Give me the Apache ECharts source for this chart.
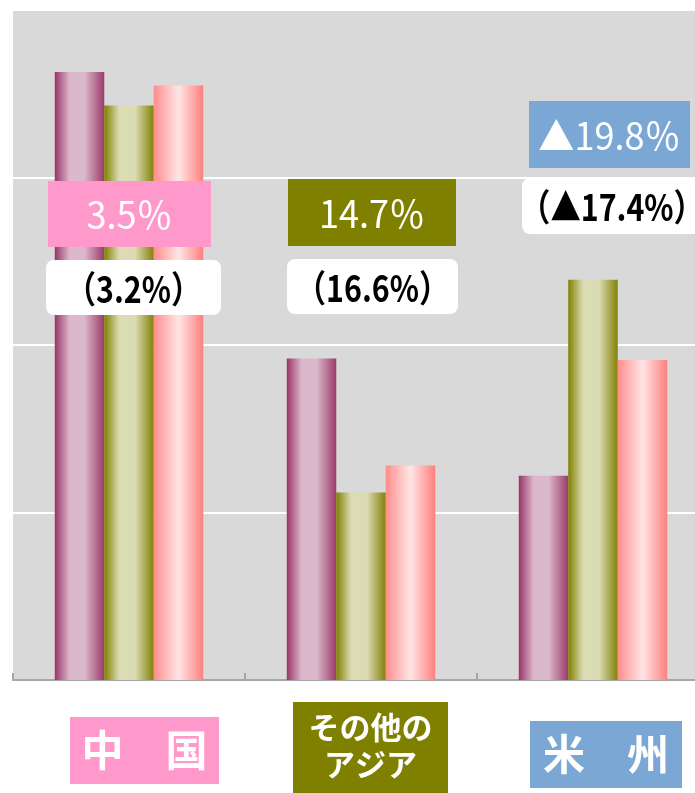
<!DOCTYPE html>
<html>
<head>
<meta charset="utf-8">
<script src="https://cdn.jsdelivr.net/npm/echarts@6/dist/echarts.min.js"></script>
<style>
    html, body { margin: 0; background: #ffffff; }
    #chart { width: 695px; height: 793px; }
</style>
</head>
<body>
<div id="chart"></div>
<script>
// data (units on a 0-400 scale, gridlines every 100)
const categories = ['中国', 'その他のアジア', '米州'];
const categoryLabels = ['中　国', 'その他の\nアジア', '米　州'];
const seriesA = [363, 192, 122];
const seriesB = [343, 112, 239];
const seriesC = [355, 128, 191];
const shareLabels = ['3.5％', '14.7％', '▲19.8％'];
const prevLabels = ['（3.2%）', '（16.6%）', '（▲17.4%）'];
const yMax = 400;
const yInterval = 100;

const boxColors = ['#ff99cc', '#808000', '#7ba7d4'];
const fontFamily = '"Noto Sans CJK JP", "Noto Sans", sans-serif';

const cylinder = (edgeL, light, edgeR, a, b) => ({
    type: 'linear', x: 0, y: 0, x2: 1, y2: 0,
    colorStops: [
        { offset: 0, color: edgeL },
        { offset: a, color: light },
        { offset: b, color: light },
        { offset: 1, color: edgeR },
    ],
});

const barSeries = (name, data, color) => ({
    name,
    type: 'bar',
    data,
    barGap: '0%',
    barCategoryGap: '36%',
    itemStyle: { color },
    silent: true,
});

// annotation boxes [x, y, w, h]
const shareBoxes = [[48, 181, 163, 66], [288, 179, 168, 67], [529, 101, 161, 67]];
const prevBoxes = [[46, 260, 175, 55], [287, 259, 171, 55], [522, 178, 180, 56]];
const catBoxes = [[70, 717, 149, 67], [293, 702, 155, 91], [530, 721, 152, 67]];

// the original font is a bit condensed
const narrowText = (txt, cx, cy, fill, font, sx) => ({
    type: 'text', z: 11,
    x: cx, y: cy, scaleX: sx,
    style: { text: txt, x: 0, y: 0, textAlign: 'center', textVerticalAlign: 'middle', fill, font },
});

const graphic = [];
shareLabels.forEach((txt, i) => {
    const [x, y, w, h] = shareBoxes[i];
    graphic.push({ type: 'rect', shape: { x, y, width: w, height: h }, style: { fill: boxColors[i] }, z: 10 });
    graphic.push(narrowText(txt, x + w / 2, y + h / 2 + 1, '#ffffff', `400 38px ${fontFamily}`, 0.95));
});
prevLabels.forEach((txt, i) => {
    const [x, y, w, h] = prevBoxes[i];
    graphic.push({ type: 'rect', shape: { x, y, width: w, height: h, r: 8 }, style: { fill: '#ffffff' }, z: 10 });
    graphic.push(narrowText(txt, x + w / 2, y + h / 2 + 1, '#000000', `700 37px ${fontFamily}`, 0.82));
});
categoryLabels.forEach((txt, i) => {
    const [x, y, w, h] = catBoxes[i];
    const twoLines = txt.includes('\n');
    graphic.push({ type: 'rect', shape: { x, y, width: w, height: h }, style: { fill: boxColors[i] }, z: 10 });
    graphic.push({
        type: 'text', z: 11,
        style: { text: txt, x: x + w / 2, y: y + (twoLines ? 44 : h / 2), textAlign: 'center', textVerticalAlign: 'middle',
            fill: '#ffffff', font: `700 ${twoLines ? 31 : 42}px ${fontFamily}`, lineHeight: 37 },
    });
});

const chart = echarts.init(document.getElementById('chart'), null, { renderer: 'canvas' });
chart.setOption({
    animation: false,
    textStyle: { fontFamily },
    grid: {
        left: 13, top: 10, width: 696, bottom: 113,
        outerBoundsMode: 'none',
        show: true, backgroundColor: '#d9d9d9', borderWidth: 0,
    },
    xAxis: {
        type: 'category',
        data: categories,
        boundaryGap: true,
        axisLine: { lineStyle: { color: '#a6a6a6', width: 2 } },
        axisTick: { show: true, inside: true, length: 7, lineStyle: { color: '#a6a6a6', width: 2 } },
        axisLabel: { show: false },
    },
    yAxis: {
        type: 'value',
        min: 0,
        max: yMax,
        interval: yInterval,
        axisLine: { show: false },
        axisTick: { show: false },
        axisLabel: { show: false },
        splitLine: { lineStyle: { color: '#ffffff', width: 2 } },
    },
    series: [
        barSeries('A', seriesA, cylinder('#993366', '#dbb8cb', '#9c3a6a', 0.3, 0.6)),
        barSeries('B', seriesB, cylinder('#808000', '#dcdcb4', '#828208', 0.3, 0.62)),
        barSeries('C', seriesC, cylinder('#ff8c8c', '#ffe6e6', '#ff7f7f', 0.5, 0.5)),
    ],
    graphic,
});
</script>
</body>
</html>
